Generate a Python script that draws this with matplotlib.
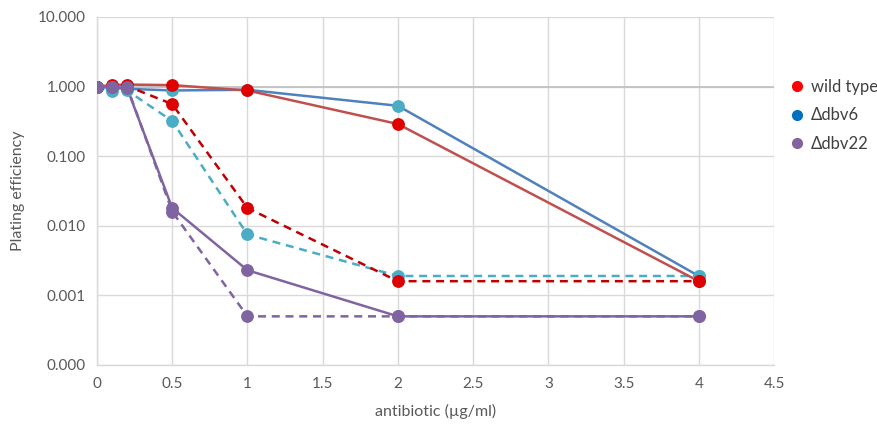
import matplotlib
matplotlib.use("Agg")
import matplotlib.pyplot as plt
from matplotlib.lines import Line2D
from matplotlib.ticker import FixedLocator, FixedFormatter

plt.rcParams['font.family'] = ['Lato', 'DejaVu Sans']

x = [0, 0.1, 0.2, 0.5, 1, 2, 4]

wt_solid = [1.0, 1.05, 1.07, 1.05, 0.88, 0.29, 0.0016]
wt_dashed = [1.0, 1.02, 1.02, 0.56, 0.018, 0.0016, 0.0016]
dbv6_solid = [1.0, 0.95, 0.93, 0.88, 0.9, 0.53, 0.0019]
dbv6_dashed = [1.0, 0.86, 0.88, 0.32, 0.0075, 0.0019, 0.0019]
dbv22_solid = [1.0, 1.0, 0.95, 0.018, 0.0023, 0.0005, 0.0005]
dbv22_dashed = [1.0, 1.0, 1.0, 0.016, 0.0005, 0.0005, 0.0005]

ytick_vals = [0.0001, 0.001, 0.01, 0.1, 1, 10]
ytick_labels = ["0.000", "0.001", "0.010", "0.100", "1.000", "10.000"]
xtick_vals = [0, 0.5, 1, 1.5, 2, 2.5, 3, 3.5, 4, 4.5]
xtick_labels = ["0", "0.5", "1", "1.5", "2", "2.5", "3", "3.5", "4", "4.5"]

legend_labels = ["wild type", "\u0394dbv6", "\u0394dbv22"]
legend_colors = ["#FF0000", "#0070C0", "#8064A2"]

fig = plt.figure(figsize=(8.77, 4.26), dpi=100)
ax = fig.add_axes([97/877, 1-365/426, (774-97)/877, (365-17)/426])

ms = 8.2
lw = 1.8
series = [
    (dbv6_solid, "#4F81BD", "#4BACC6", "-"),
    (dbv6_dashed, "#4BACC6", "#4BACC6", (0, (3.2, 2.3))),
    (wt_solid, "#C0504D", "#E00000", "-"),
    (wt_dashed, "#C00000", "#DD0000", (0, (3.2, 2.3))),
    (dbv22_dashed, "#8064A2", "#8064A2", (0, (3.2, 2.3))),
    (dbv22_solid, "#8064A2", "#8064A2", "-"),
]
for i, (y, lc, mc, ls) in enumerate(series):
    ax.plot(x, y, color=lc, linestyle=ls, linewidth=lw, zorder=3 + i)
for i, (y, lc, mc, ls) in enumerate(series):
    ax.plot(x, y, linestyle="none", marker="o", markersize=ms,
            markerfacecolor=mc, markeredgecolor=mc, zorder=10 + i)

ax.set_yscale("log")
ax.set_ylim(0.0001, 10)
ax.set_xlim(0, 4.5)
ax.yaxis.set_major_locator(FixedLocator(ytick_vals))
ax.yaxis.set_major_formatter(FixedFormatter(ytick_labels))
ax.yaxis.set_minor_locator(FixedLocator([]))
ax.set_xticks(xtick_vals)
ax.set_xticklabels(xtick_labels)

ax.grid(True, color="#D9D9D9", linewidth=1.0, zorder=0)
ax.set_axisbelow(True)
ax.axhline(1.0, color="#BFBFBF", linewidth=1.2, zorder=1)
for s in ["top", "right"]:
    ax.spines[s].set_visible(False)
for s in ["left", "bottom"]:
    ax.spines[s].set_color("#D9D9D9")
    ax.spines[s].set_linewidth(1.0)
ax.tick_params(axis="both", length=0, labelsize=11, colors="#595959", pad=8)
ax.tick_params(axis="x", pad=9)

ax.set_xlabel("antibiotic (\u00b5g/ml)", fontsize=11.5, color="#595959", labelpad=9)
ax.set_ylabel("Plating efficiency", fontsize=11.5, color="#595959", labelpad=9)

handles = [Line2D([0], [0], linestyle="none", marker="o", markersize=7,
                  markerfacecolor=c, markeredgecolor=c) for c in legend_colors]
fig.legend(handles, legend_labels, loc="upper left", bbox_to_anchor=(774/877, 1-64/426),
           frameon=False, fontsize=12, handletextpad=0.3, labelspacing=0.75,
           handlelength=1.0, labelcolor="#404040")

fig.savefig("out.png", dpi=100)
